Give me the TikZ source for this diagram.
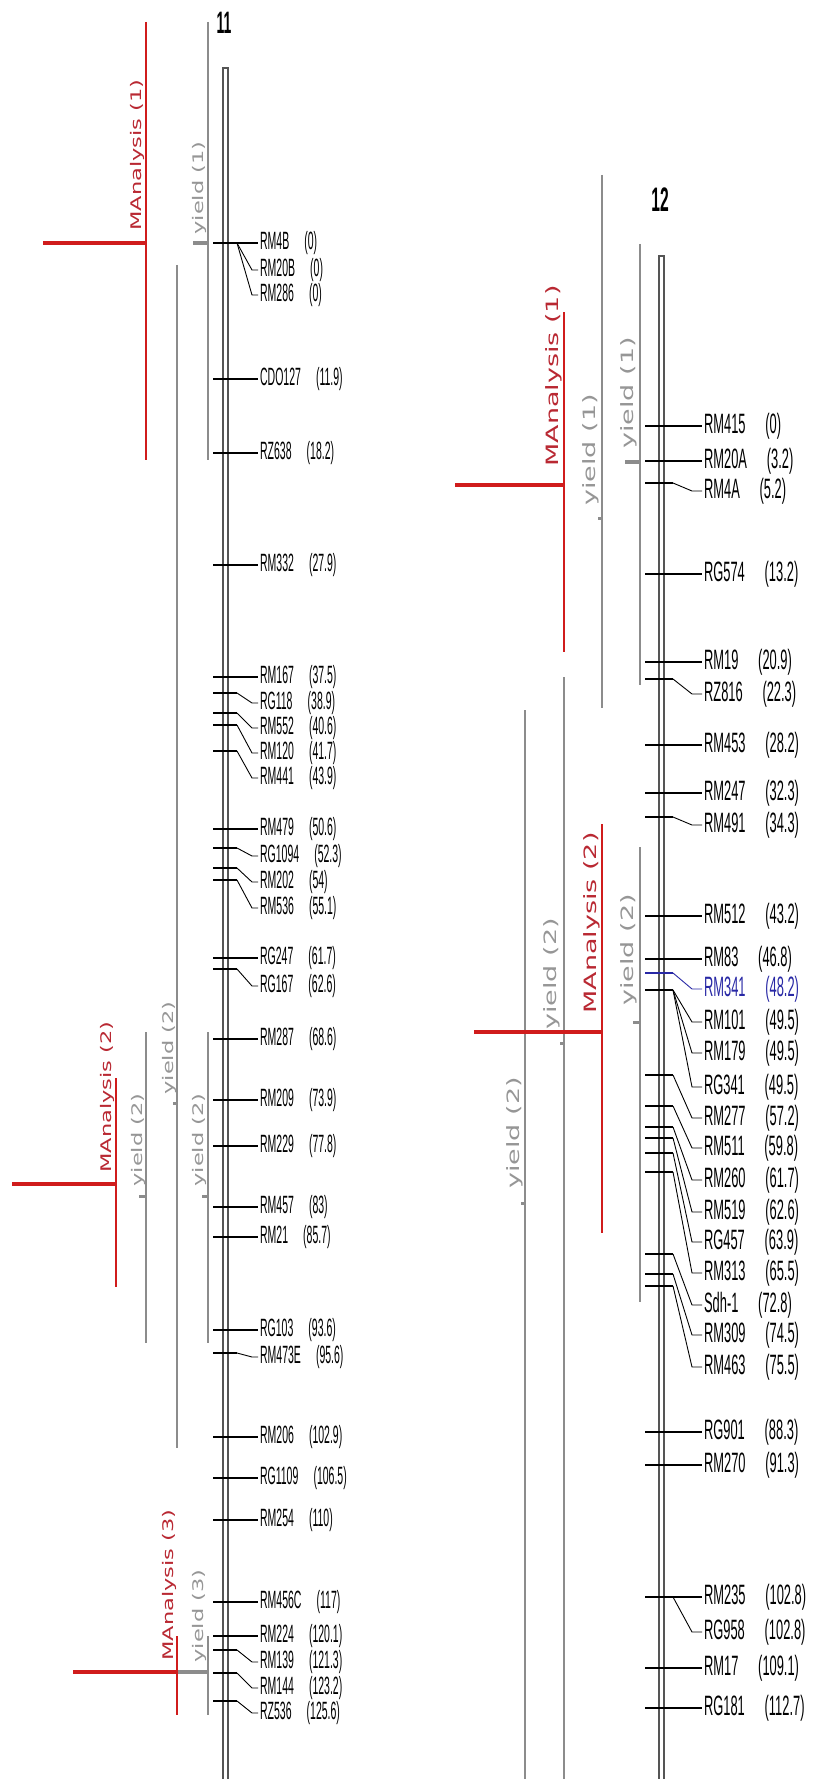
\documentclass[tikz,border=0pt]{standalone}
\usepackage{fontspec}
\newfontfamily\mkfont{Liberation Sans}
\newfontfamily\rotfont{DejaVu Sans}
\definecolor{qred}{RGB}{208,28,28}
\definecolor{qredtxt}{RGB}{185,40,50}
\definecolor{qgray}{RGB}{140,140,140}
\definecolor{qgraytxt}{RGB}{150,150,150}
\definecolor{qbar}{RGB}{85,85,85}
\definecolor{qblue}{RGB}{40,40,165}
% chromosome 11 markers: straight and offset
\newcommand{\mkSA}[4]{%
  \coordinate (#1t) at (213,#2);
  \coordinate (#1e) at (258,#2);
  \node[lblA] (#1) at (260,#2) {#3\hspace{36pt}#4};
  \draw[tickline] (#1t) -- (#1e);}
\newcommand{\mkOA}[5]{%
  \coordinate (#1t) at (213,#2);
  \coordinate (#1b) at (237,#2);
  \coordinate (#1c) at (252,#3);
  \coordinate (#1e) at (258,#3);
  \node[lblA] (#1) at (260,#3) {#4\hspace{36pt}#5};
  \draw[tickline] (#1t) -- (#1b);
  \draw[connline] (#1b) -- (#1c) -- (#1e);}
% chromosome 12 markers
\newcommand{\mkSB}[4]{%
  \coordinate (#1t) at (645,#2);
  \coordinate (#1e) at (702,#2);
  \node[lblB] (#1) at (704,#2) {#3\hspace{43pt}#4};
  \draw[tickline] (#1t) -- (#1e);}
\newcommand{\mkOB}[6][black]{%
  \coordinate (#2t) at (645,#3);
  \coordinate (#2b) at (673,#3);
  \coordinate (#2c) at (692,#4);
  \coordinate (#2e) at (702,#4);
  \node[lblB,text=#1] (#2) at (704,#4) {#5\hspace{43pt}#6};
  \draw[tickline,draw=#1] (#2t) -- (#2b);
  \draw[connline,draw=#1] (#2b) -- (#2c) -- (#2e);}
\begin{document}
\begin{tikzpicture}[x=1pt,y=-1pt,
  lblA/.style={font=\mkfont\fontsize{25}{25}\selectfont, xscale=0.42, inner sep=0pt, anchor=west},
  lblB/.style={font=\mkfont\fontsize{28}{28}\selectfont, xscale=0.46, inner sep=0pt, anchor=west},
  rotA/.style={font=\rotfont\fontsize{22.5}{22.5}\selectfont, xscale=0.65, rotate=90, inner sep=0pt},
  rotB/.style={font=\rotfont\fontsize{27}{27}\selectfont, xscale=0.63, rotate=90, inner sep=0pt},
  chrlbl/.style={font=\mkfont\bfseries, inner sep=0pt},
  tickline/.style={draw=black, line width=1.5pt},
  connline/.style={draw=black, line width=0.9pt},
  barline/.style={draw=qbar, line width=1.3pt},
  grayv/.style={draw=qgray, line width=1.4pt},
  grayh/.style={draw=qgray, line width=3.5pt},
  graydot/.style={draw=qgray, line width=3pt},
  redv/.style={draw=qred, line width=1.7pt},
  redh/.style={draw=qred, line width=4pt},
  redtxt/.style={text=qredtxt},
  graytxt/.style={text=qgraytxt}]
\fill[white] (0,0) rectangle (824,1779);
\useasboundingbox (0,0) rectangle (824,1779);

%================ chromosome 11 ================
\node[chrlbl, font=\mkfont\bfseries\fontsize{31}{31}\selectfont, xscale=0.45] (c11) at (224,23) {11};
\coordinate (b11a) at (223,1779); \coordinate (b11b) at (223,68);
\coordinate (b11c) at (228,68);   \coordinate (b11d) at (228,1779);
\draw[barline] (b11a) -- (b11b) -- (b11c) -- (b11d);

% QTL intervals chr 11
\draw[grayv] (208,22) -- (208,460);
\draw[grayh] (193,243) -- (208,243);
\node[rotA, graytxt] (y11a) at (199,188) {yield (1)};
\draw[redv] (146,22) -- (146,460);
\draw[redh] (43,243) -- (146,243);
\node[rotA, redtxt] (m11a) at (137,155) {MAnalysis (1)};

\draw[grayv] (177,265) -- (177,1448);
\draw[graydot] (173,1103) -- (177,1103);
\node[rotA, graytxt] (y11b) at (169,1048) {yield (2)};

\draw[grayv] (146,1032) -- (146,1343);
\draw[graydot] (139,1196) -- (146,1196);
\node[rotA, graytxt] (y11c) at (138,1140) {yield (2)};

\draw[grayv] (208,1032) -- (208,1343);
\draw[graydot] (202,1196) -- (208,1196);
\node[rotA, graytxt] (y11d) at (199,1140) {yield (2)};

\draw[redv] (116,1078) -- (116,1287);
\draw[redh] (12,1184) -- (116,1184);
\node[rotA, redtxt] (m11b) at (107,1097) {MAnalysis (2)};

\draw[grayv] (208,1636) -- (208,1715);
\draw[grayh] (177,1672) -- (208,1672);
\node[rotA, graytxt] (y11e) at (199,1616) {yield (3)};
\draw[redv] (177,1636) -- (177,1715);
\draw[redh] (73,1672) -- (177,1672);
\node[rotA, redtxt] (m11c) at (169,1585) {MAnalysis (3)};

% markers chr 11
\mkSA{aRMfourB}{243}{RM4B}{(0)}
\mkOA{aRMtwentyB}{243}{270}{RM20B}{(0)}
\mkOA{aRMtwoeightsix}{243}{295}{RM286}{(0)}
\mkSA{aCDO}{379}{CDO127}{(11.9)}
\mkSA{aRZsixthreeeight}{453}{RZ638}{(18.2)}
\mkSA{aRMthreethreetwo}{565}{RM332}{(27.9)}
\mkSA{aRMonesixseven}{677}{RM167}{(37.5)}
\mkOA{aRGoneoneeight}{693}{703}{RG118}{(38.9)}
\mkOA{aRMfivefivetwo}{713}{728}{RM552}{(40.6)}
\mkOA{aRMonetwozero}{725}{753}{RM120}{(41.7)}
\mkOA{aRMfourfourone}{751}{778}{RM441}{(43.9)}
\mkSA{aRMfourseven}{829}{RM479}{(50.6)}
\mkOA{aRGoneozero}{848}{856}{RG1094}{(52.3)}
\mkOA{aRMtwozerotwo}{868}{882}{RM202}{(54)}
\mkOA{aRMfivethreesix}{880}{908}{RM536}{(55.1)}
\mkSA{aRGtwofourseven}{958}{RG247}{(61.7)}
\mkOA{aRGonesixseven}{969}{986}{RG167}{(62.6)}
\mkSA{aRMtwoeightseven}{1039}{RM287}{(68.6)}
\mkSA{aRMtwozeronine}{1100}{RM209}{(73.9)}
\mkSA{aRMtwotwonine}{1146}{RM229}{(77.8)}
\mkSA{aRMfourfiveseven}{1207}{RM457}{(83)}
\mkSA{aRMtwoone}{1237}{RM21}{(85.7)}
\mkSA{aRGonezerothree}{1330}{RG103}{(93.6)}
\mkOA{aRMfourseventhreeE}{1353}{1357}{RM473E}{(95.6)}
\mkSA{aRMtwozerosix}{1437}{RM206}{(102.9)}
\mkSA{aRGoneonezero}{1478}{RG1109}{(106.5)}
\mkSA{aRMtwofivefour}{1520}{RM254}{(110)}
\mkSA{aRMfourfivesixC}{1602}{RM456C}{(117)}
\mkSA{aRMtwotwofour}{1636}{RM224}{(120.1)}
\mkOA{aRMonethreenine}{1650}{1662}{RM139}{(121.3)}
\mkOA{aRMonefourfour}{1673}{1688}{RM144}{(123.2)}
\mkOA{aRZfivethreesix}{1701}{1713}{RZ536}{(125.6)}

%================ chromosome 12 ================
\node[chrlbl, font=\mkfont\bfseries\fontsize{34}{34}\selectfont, xscale=0.46] (c12) at (660,200) {12};
\coordinate (b12a) at (659,1779); \coordinate (b12b) at (659,256);
\coordinate (b12c) at (664,256);  \coordinate (b12d) at (664,1779);
\draw[barline] (b12a) -- (b12b) -- (b12c) -- (b12d);

% QTL intervals chr 12
\draw[grayv] (640,244) -- (640,685);
\draw[grayh] (625,462) -- (640,462);
\node[rotB, graytxt] (y12a) at (629,393) {yield (1)};
\draw[grayv] (602,175) -- (602,708);
\draw[graydot] (598,518) -- (602,518);
\node[rotB, graytxt] (y12b) at (591,450) {yield (1)};
\draw[redv] (564,312) -- (564,652);
\draw[redh] (455,485) -- (564,485);
\node[rotB, redtxt] (m12a) at (554,376) {MAnalysis (1)};

\draw[grayv] (640,847) -- (640,1302);
\draw[graydot] (633,1022) -- (640,1022);
\node[rotB, graytxt] (y12c) at (629,950) {yield (2)};
\draw[grayv] (564,677) -- (564,1779);
\draw[graydot] (560,1043) -- (564,1043);
\node[rotB, graytxt] (y12d) at (552,974) {yield (2)};
\draw[grayv] (525,710) -- (525,1779);
\draw[graydot] (521,1203) -- (525,1203);
\node[rotB, graytxt] (y12e) at (515,1133) {yield (2)};
\draw[redv] (602,824) -- (602,1233);
\draw[redh] (474,1032) -- (602,1032);
\node[rotB, redtxt] (m12b) at (592,923) {MAnalysis (2)};

% markers chr 12
\mkSB{bRMfouronefive}{426}{RM415}{(0)}
\mkSB{bRMtwentyA}{461}{RM20A}{(3.2)}
\mkOB{bRMfourA}{483}{491}{RM4A}{(5.2)}
\mkSB{bRGfivesevenfour}{574}{RG574}{(13.2)}
\mkSB{bRMonenine}{662}{RM19}{(20.9)}
\mkOB{bRZeightonesix}{679}{694}{RZ816}{(22.3)}
\mkSB{bRMfourfivethree}{745}{RM453}{(28.2)}
\mkSB{bRMtwofourseven}{793}{RM247}{(32.3)}
\mkOB{bRMfourninone}{817}{825}{RM491}{(34.3)}
\mkSB{bRMfiveonetwo}{916}{RM512}{(43.2)}
\mkSB{bRMeightthree}{959}{RM83}{(46.8)}
\mkOB[qblue]{bRMthreefourone}{973}{989}{RM341}{(48.2)}
\mkOB{bRMonezeroone}{990}{1022}{RM101}{(49.5)}
\mkOB{bRMoneseven}{990}{1053}{RM179}{(49.5)}
\mkOB{bRGthreefourone}{990}{1087}{RG341}{(49.5)}
\mkOB{bRMtwosevenseven}{1075}{1118}{RM277}{(57.2)}
\mkOB{bRMfiveoneone}{1106}{1148}{RM511}{(59.8)}
\mkOB{bRMtwosixzero}{1127}{1180}{RM260}{(61.7)}
\mkOB{bRMfiveonenine}{1138}{1212}{RM519}{(62.6)}
\mkOB{bRGfourfiveseven}{1153}{1242}{RG457}{(63.9)}
\mkOB{bRMthreeonethree}{1172}{1273}{RM313}{(65.5)}
\mkOB{bSdhone}{1254}{1305}{Sdh-1}{(72.8)}
\mkOB{bRMthreezeronine}{1274}{1335}{RM309}{(74.5)}
\mkOB{bRMfoursixthree}{1286}{1367}{RM463}{(75.5)}
\mkSB{bRGninezeroone}{1432}{RG901}{(88.3)}
\mkSB{bRMtwoseventy}{1465}{RM270}{(91.3)}
\mkSB{bRMtwothreefive}{1597}{RM235}{(102.8)}
\mkOB{bRGninefiveeight}{1597}{1632}{RG958}{(102.8)}
\mkSB{bRMseventeen}{1668}{RM17}{(109.1)}
\mkSB{bRGoneeightone}{1708}{RG181}{(112.7)}
\end{tikzpicture}
\end{document}
